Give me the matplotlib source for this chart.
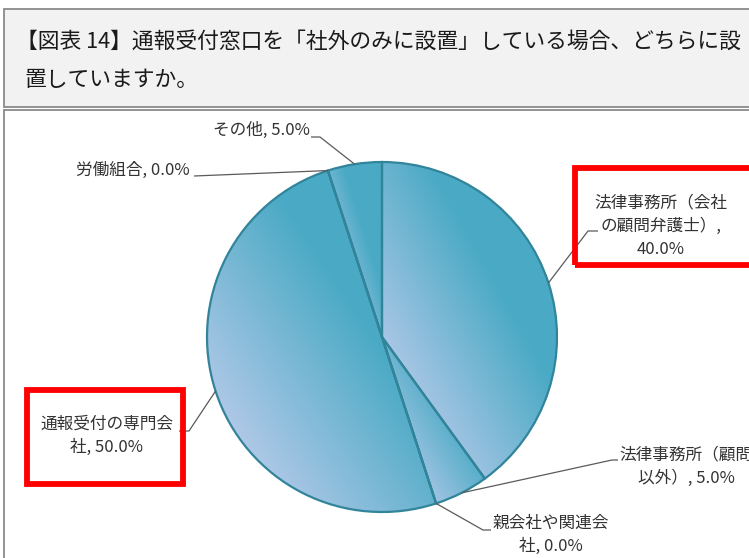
import numpy as np
import matplotlib
matplotlib.use("Agg")
import matplotlib.pyplot as plt
from matplotlib.patches import Rectangle
from matplotlib.colors import to_rgb

plt.rcParams['font.family'] = ['Noto Sans CJK JP', 'DejaVu Sans']

# ---- data -------------------------------------------------------------
title_lines = ["【図表 14】通報受付窓口を「社外のみに設置」している場合、どちらに設",
               "置していますか。"]
categories = [
    "法律事務所（会社\nの顧問弁護士）,\n",
    "法律事務所（顧問\n以外）, ",
    "親会社や関連会\n社, ",
    "通報受付の専門会\n社, ",
    "労働組合, ",
    "その他, ",
]
values = [40.0, 5.0, 0.0, 50.0, 0.0, 5.0]

W, H = 749, 558
fig = plt.figure(figsize=(W / 100, H / 100), dpi=100)
ax = fig.add_axes([0, 0, 1, 1])
ax.axis('off')


def px(x, y):
    """Pixel position (origin top-left) to data coordinates."""
    return x, H - y


# ---- pie ----------------------------------------------------------------
cx, cy = px(382, 337)
R = 175
wedges, _ = ax.pie(values, center=(cx, cy), radius=R, startangle=90,
                   counterclock=False, normalize=True,
                   wedgeprops=dict(edgecolor='#31849a', linewidth=1.6))
ax.set_aspect('auto')
ax.set_xlim(0, W)
ax.set_ylim(0, H)

# ---- frames -----------------------------------------------------------
ax.add_patch(Rectangle(px(4, 107), W + 20, 98, facecolor='#f2f2f2',
                       edgecolor='#8a8a8a', lw=1.3, zorder=0))
ax.add_patch(Rectangle(px(4, H + 20), W + 20, H + 20 - 110, facecolor='white',
                       edgecolor='#8a8a8a', lw=1.3, zorder=0))

ax.text(*px(16, 42), title_lines[0], fontsize=15.7, color='#1a1a1a',
        ha='left', va='center')
ax.text(*px(24, 80), title_lines[1], fontsize=15.7, color='#1a1a1a',
        ha='left', va='center')

# gradient fill for each slice, light at lower-left, teal toward upper-right
light = np.array(to_rgb('#c9d0f0'))
teal = np.array(to_rgb('#4aaac5'))
inv = ax.transData.inverted()
for w, v in zip(wedges, values):
    w.set_facecolor('none')
    w.set_zorder(3)
    if v <= 0:
        continue
    verts = inv.transform(w.get_transform().transform(w.get_path().vertices))
    x0, y0 = verts.min(axis=0)
    x1, y1 = verts.max(axis=0)
    n = 200
    gx, gy = np.meshgrid(np.linspace(0, 1, n), np.linspace(0, 1, n))
    t = np.clip(((gx + gy) / 2 - 0.08) / 0.55, 0, 1)[..., None]
    img = light * (1 - t) + teal * t
    im = ax.imshow(img, extent=(x0, x1, y0, y1), origin='lower',
                   interpolation='bilinear', zorder=2, aspect='auto')
    im.set_clip_path(w)

ax.set_aspect('auto')
ax.set_xlim(0, W)
ax.set_ylim(0, H)

# ---- labels and leader lines -------------------------------------------
cum = np.cumsum([0] + values)
total = cum[-1]
mid = [(cum[i] + cum[i + 1]) / 2 / total * 360 for i in range(len(values))]
anchors = [(cx + R * np.sin(np.radians(a)), cy + R * np.cos(np.radians(a))) for a in mid]

# label centre and leader elbow points (pixel coords)
layout = [
    dict(xy=(661, 226), path=[(588, 231), (598, 231)]),
    dict(xy=(686, 467), path=[(612, 460), (618, 460)]),
    dict(xy=(551, 535), path=[(483, 530), (491, 530)]),
    dict(xy=(107, 436), path=[(189, 431), (179, 431)]),
    dict(xy=(133, 170), path=[(194, 176)]),
    dict(xy=(261, 130), path=[(320, 137), (311, 137)]),
]

lead_col = '#5a5a5a'
for cat, v, a_pt, lay in zip(categories, values, anchors, layout):
    label = f"{cat}{v:.1f}%"
    xs = [a_pt[0]] + [px(*p)[0] for p in lay['path']]
    ys = [a_pt[1]] + [px(*p)[1] for p in lay['path']]
    ax.plot(xs, ys, color=lead_col, lw=0.9, zorder=4, solid_capstyle='butt')
    ax.text(*px(*lay['xy']), label, fontsize=12, color='#333333', ha='center',
            va='center', multialignment='center', linespacing=1.45, zorder=5)

# red highlight boxes
ax.add_patch(Rectangle(px(574.5, 265), W, 97, facecolor='none',
                       edgecolor='#ff0000', lw=4.2, zorder=6))
ax.add_patch(Rectangle(px(26.5, 483.5), 156, 93.5, facecolor='none',
                       edgecolor='#ff0000', lw=4.2, zorder=6))

fig.savefig("out.png", dpi=100)
